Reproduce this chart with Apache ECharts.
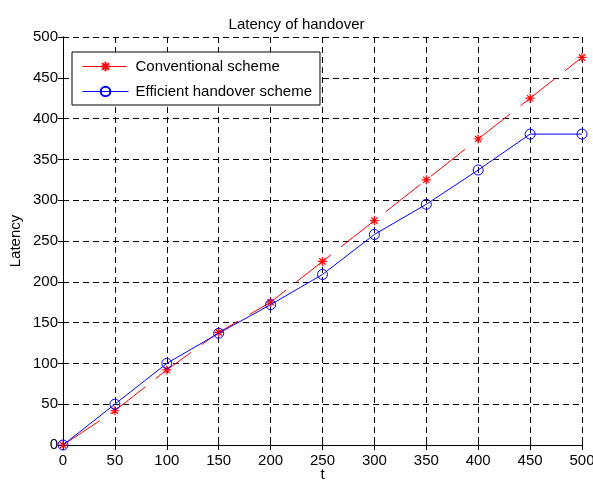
<!DOCTYPE html>
<html>
<head>
    <meta charset="utf-8">
    <script src="https://cdn.jsdelivr.net/npm/echarts@6/dist/echarts.min.js"></script>
</head>
<body style="margin:0;background:#fff">
    <div id="main" style="width:593px;height:482px;"></div>
<script type="text/javascript">
    // data
    var tValues = [0, 50, 100, 150, 200, 250, 300, 350, 400, 450, 500];
    var conventional = [0, 42, 92, 138, 175, 225, 275, 325, 375, 425, 475];
    var efficient = [0, 50, 100, 137, 172, 209, 258, 295, 337, 381, 381];

    var starPath = 'path://M0,5L10,5M5,0L5,10M1.5,1.5L8.5,8.5M1.5,8.5L8.5,1.5';
    var ringPath = 'path://M10,5A5,5,0,1,1,0,5A5,5,0,1,1,10,5Z';
    var font = 'Arial, "Liberation Sans", sans-serif';

    function pairs(ys) {
        return tValues.map(function (t, i) { return [t, ys[i]]; });
    }

    var myChart = echarts.init(document.getElementById('main'));

    var gridLine = { show: true, lineStyle: { color: '#000', type: [6, 4], width: 1 } };
    var tickIn = { show: true, inside: true, length: 5, lineStyle: { color: '#000' } };

    var option = {
        backgroundColor: '#fff',
        animation: false,
        title: {
            text: 'Latency of handover',
            left: 'center',
            top: 12,
            textStyle: { fontFamily: font, fontSize: 15, fontWeight: 'normal', color: '#000' }
        },
        legend: {
            orient: 'vertical',
            left: 72,
            top: 52,
            padding: [7, 8, 6, 10],
            itemGap: 10,
            itemWidth: 46,
            itemHeight: 12,
            borderColor: '#000',
            borderWidth: 1,
            borderRadius: 0,
            backgroundColor: '#fff',
            lineStyle: { width: 1 },
            textStyle: { fontFamily: font, fontSize: 15, color: '#000', padding: [0, 0, 0, 2] },
            data: ['Conventional scheme', 'Efficient handover scheme']
        },
        grid: { left: 63, right: 11, top: 37, bottom: 37, outerBoundsMode: 'none' },
        xAxis: [{
            type: 'value',
            min: 0, max: 500, interval: 50,
            name: 't',
            nameLocation: 'middle',
            nameGap: 22,
            nameMoveOverlap: false,
            nameTextStyle: { fontFamily: font, fontSize: 15, color: '#000' },
            axisLine: { show: true, onZero: false, lineStyle: { color: '#000', width: 1 } },
            axisTick: tickIn,
            axisLabel: { fontFamily: font, fontSize: 15, color: '#000', margin: 8 },
            splitLine: gridLine
        }, {
            type: 'value', position: 'top',
            min: 0, max: 500, interval: 50,
            axisLine: { show: true, lineStyle: { color: '#000', width: 1 } },
            axisTick: tickIn,
            axisLabel: { show: false },
            splitLine: { show: false }
        }],
        yAxis: [{
            type: 'value',
            min: 0, max: 500, interval: 50,
            name: 'Latency',
            nameLocation: 'middle',
            nameGap: 40,
            nameMoveOverlap: false,
            nameTextStyle: { fontFamily: font, fontSize: 15, color: '#000' },
            axisLine: { show: true, onZero: false, lineStyle: { color: '#000', width: 1 } },
            axisTick: tickIn,
            axisLabel: { fontFamily: font, fontSize: 15, color: '#000', margin: 5 },
            splitLine: gridLine
        }, {
            type: 'value', position: 'right',
            min: 0, max: 500, interval: 50,
            axisLine: { show: true, lineStyle: { color: '#000', width: 1 } },
            axisTick: tickIn,
            axisLabel: { show: false },
            splitLine: { show: false }
        }],
        series: [{
            name: 'Conventional scheme',
            type: 'line',
            data: pairs(conventional),
            symbol: starPath,
            symbolSize: 9,
            showAllSymbol: true,
            lineStyle: { color: '#ff0000', width: 1, type: [44, 13] },
            itemStyle: { color: '#ff0000', borderColor: '#ff0000', borderWidth: 1.2 },
            z: 3
        }, {
            name: 'Efficient handover scheme',
            type: 'line',
            data: pairs(efficient),
            symbol: ringPath,
            symbolSize: 10,
            showAllSymbol: true,
            lineStyle: { color: '#0000ff', width: 1 },
            itemStyle: { color: 'rgba(0,0,0,0)', borderColor: '#0000ff', borderWidth: 1 },
            z: 4
        }]
    };

    myChart.setOption(option);
</script>
</body>
</html>
